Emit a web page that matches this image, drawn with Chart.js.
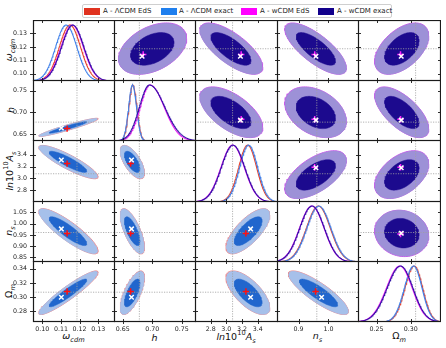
<!DOCTYPE html>
<html>
<head>
<meta charset="utf-8">
<script src="https://cdn.jsdelivr.net/npm/chart.js@4.4.1/dist/chart.umd.min.js"></script>
<style>
  body { margin: 0; background: #fff; font-family: "DejaVu Sans", sans-serif; }
  #fig { position: relative; width: 446px; height: 348px; overflow: hidden; }
  #fig canvas { position: absolute; }
  #legend { position: absolute; left: 82px; top: 4px; width: 310px; height: 14px; border: 1px solid #cfcfcf; border-radius: 2px; box-sizing: border-box; }
  .patch { position: absolute; top: 3px; width: 16px; height: 7px; }
  .ltxt { position: absolute; top: 1px; font-size: 7px; line-height: 10px; color: #222; white-space: nowrap; }
  .axt { position: absolute; font-size: 9.5px; color: #111; white-space: nowrap; transform: translate(-50%, -50%); }
  .axt.rot { transform: translate(-50%, -50%) rotate(-90deg); }
  .axt sub, .axt sup { font-size: 70%; }
</style>
</head>
<body>
<div id="fig">
  <div id="legend"></div>
</div>
<script>
// ---- data ----
const axisTitles = ['<i>ω</i><sub><i>cdm</i></sub>', '<i>h</i>', '<i>ln</i>10<sup>10</sup><i>A</i><sub><i>s</i></sub>', '<i>n</i><sub><i>s</i></sub>', 'Ω<sub><i>m</i></sub>'];

const xLo = [0.095, 0.635, 2.60, 0.828, 0.223];
const xHi = [0.139, 0.774, 3.66, 1.102, 0.344];
const yLo = [0.0946, 0.635, 2.605, 0.830, 0.265];
const yHi = [0.140, 0.774, 3.647, 1.101, 0.351];

const xTicks = [[0.10, 0.11, 0.12, 0.13], [0.65, 0.70, 0.75], [2.8, 3.0, 3.2, 3.4], [0.9, 1.0], [0.25, 0.30]];
const xTickLabels = [['0.10', '0.11', '0.12', '0.13'], ['0.65', '0.70', '0.75'], ['2.8', '3.0', '3.2', '3.4'], ['0.9', '1.0'], ['0.25', '0.30']];
const yTicks = [[0.10, 0.11, 0.12, 0.13], [0.65, 0.70, 0.75], [2.8, 3.0, 3.2, 3.4], [0.85, 0.90, 0.95, 1.00, 1.05], [0.28, 0.30, 0.32, 0.34]];
const yTickLabels = [['0.10', '0.11', '0.12', '0.13'], ['0.65', '0.70', '0.75'], ['2.8', '3.0', '3.2', '3.4'], ['0.85', '0.90', '0.95', '1.00', '1.05'], ['0.28', '0.30', '0.32', '0.34']];

const fiducial = [0.1186, 0.678, 3.08, 0.961, 0.307];

// 1D marginals (peak, left width, right width)
const lcdmEdsPeak = [0.1148, 0.6668, 3.272, 0.966, 0.305];
const lcdmEdsSigL = [0.0057, 0.0066, 0.115, 0.040, 0.0135];
const lcdmEdsSigR = [0.0057, 0.0068, 0.115, 0.040, 0.0123];
const lcdmExactPeak = [0.1128, 0.6663, 3.285, 0.968, 0.304];
const lcdmExactSigL = [0.0057, 0.0066, 0.115, 0.040, 0.0135];
const lcdmExactSigR = [0.0057, 0.0068, 0.115, 0.040, 0.0123];
const wcdmEdsPeak = [0.1160, 0.696, 3.080, 0.944, 0.284];
const wcdmEdsSigL = [0.0060, 0.0165, 0.150, 0.041, 0.0196];
const wcdmEdsSigR = [0.0060, 0.0240, 0.150, 0.041, 0.0180];
const wcdmExactPeak = [0.1163, 0.695, 3.085, 0.945, 0.285];
const wcdmExactSigL = [0.0060, 0.0170, 0.150, 0.041, 0.0196];
const wcdmExactSigR = [0.0060, 0.0260, 0.150, 0.041, 0.0180];

// 2D contours (center, width per parameter, correlations)
const lcdmCenter = [0.1138, 0.666, 3.28, 0.967, 0.306];
const lcdmSigma = [0.0063, 0.0082, 0.111, 0.040, 0.0122];
const lcdmEdsCenter = [0.1141, 0.6662, 3.276, 0.9665, 0.3063];
const lcdmEdsSigma = [0.0064, 0.0083, 0.113, 0.0405, 0.0124];
const wcdmCenter = [0.1185, 0.700, 3.06, 0.958, 0.287];
const wcdmSigma = [0.0076, 0.023, 0.16, 0.041, 0.0157];
const wcdmEdsCenter = [0.1187, 0.7005, 3.065, 0.957, 0.2868];
const wcdmEdsSigma = [0.0077, 0.0233, 0.162, 0.0415, 0.0159];
const lcdmCorr = [
  [1, 0.95, -0.88, -0.87, 0.93],
  [0.95, 1, -0.65, -0.70, 0.70],
  [-0.88, -0.65, 1, 0.72, -0.68],
  [-0.87, -0.70, 0.72, 1, -0.85],
  [0.93, 0.70, -0.68, -0.85, 1]
];
const wcdmCorr = [
  [1, 0.40, -0.72, -0.75, 0.50],
  [0.40, 1, -0.60, -0.35, -0.65],
  [-0.72, -0.60, 1, 0.60, 0.45],
  [-0.75, -0.35, 0.60, 1, -0.10],
  [0.50, -0.65, 0.45, -0.10, 1]
];

// best-fit markers
const lcdmExactBest = [0.1102, 0.6647, 3.31, 0.977, 0.300];
const lcdmEdsBest = [0.1133, 0.6632, 3.25, 0.957, 0.308];
const wcdmExactBest = [0.1130, 0.6826, 3.18, 0.958, 0.286];
const wcdmEdsBest = [0.1143, 0.6845, 3.19, 0.954, 0.285];

const legendNames = ['A - ΛCDM EdS', 'A - ΛCDM exact', 'A - wCDM EdS', 'A - wCDM exact'];
const legendColors = ['#e0321f', '#1f7fee', '#ff00ff', '#12008c'];

// ---- layout ----
const colE = [33, 114, 195, 277, 358, 440];
const rowE = [20, 80, 140, 201, 261, 321];
const K1 = 1.6, K2 = 2.48;
const XAXIS_H = 15;

const fig = document.getElementById('fig');

// legend
const legend = document.getElementById('legend');
const patchX = [1, 78, 158, 235];
const textX = [20, 96, 177, 254];
legendNames.forEach((name, k) => {
    const p = document.createElement('div');
    p.className = 'patch';
    p.style.left = patchX[k] + 'px';
    p.style.background = legendColors[k];
    legend.appendChild(p);
    const t = document.createElement('div');
    t.className = 'ltxt';
    t.style.left = textX[k] + 'px';
    t.textContent = name;
    legend.appendChild(t);
});

// axis titles
axisTitles.forEach((html, k) => {
    const xt = document.createElement('div');
    xt.className = 'axt';
    xt.innerHTML = html;
    xt.style.left = ((colE[k] + colE[k + 1]) / 2) + 'px';
    xt.style.top = '337px';
    fig.appendChild(xt);
    const yt = document.createElement('div');
    yt.className = 'axt rot';
    yt.innerHTML = html;
    yt.style.left = '10px';
    yt.style.top = ((rowE[k] + rowE[k + 1]) / 2) + 'px';
    fig.appendChild(yt);
});

function splitGauss(x, m, sl, sr) {
    const s = x < m ? sl : sr;
    return Math.exp(-0.5 * ((x - m) / s) ** 2);
}

function marginal(j, peak, sl, sr) {
    const pts = [];
    for (let k = 0; k <= 140; k++) {
        const x = xLo[j] + (xHi[j] - xLo[j]) * k / 140;
        pts.push({ x: x, y: splitGauss(x, peak[j], sl[j], sr[j]) });
    }
    return pts;
}

function contour(center, sigma, corr, i, j, k) {
    const rho = corr[i][j];
    const q = Math.sqrt(1 - rho * rho);
    const pts = [];
    for (let n = 0; n <= 96; n++) {
        const t = 2 * Math.PI * n / 96;
        pts.push({
            x: center[j] + k * sigma[j] * Math.cos(t),
            y: center[i] + k * sigma[i] * (rho * Math.cos(t) + q * Math.sin(t))
        });
    }
    return pts;
}

function lineSet(data, color, width, extra) {
    return Object.assign({ data: data, borderColor: color, borderWidth: width, fill: false, pointRadius: 0 }, extra || {});
}

function marker(j, i, best, style, color) {
    return {
        data: [{ x: best[j], y: best[i] }], showLine: false, fill: false,
        pointStyle: style, pointRadius: 3.2, pointBorderWidth: 1.5,
        pointBorderColor: color, pointBackgroundColor: color
    };
}

// frame + inward ticks, drawn after everything
function framePlugin(cfg) {
    return {
        id: 'frame',
        afterDraw(chart) {
            const ctx = chart.ctx;
            const a = chart.chartArea;
            const xs = chart.scales.x, ys = chart.scales.y;
            ctx.save();
            ctx.setLineDash([]);
            ctx.strokeStyle = '#1a1a1a';
            ctx.lineWidth = 0.9;
            ctx.beginPath();
            cfg.xt.forEach(v => {
                const p = Math.round(xs.getPixelForValue(v)) + 0.5;
                ctx.moveTo(p, a.top); ctx.lineTo(p, a.top + 3);
                ctx.moveTo(p, a.bottom - 3); ctx.lineTo(p, a.bottom + (cfg.outB ? 2 : 0));
            });
            cfg.yt.forEach(v => {
                const p = Math.round(ys.getPixelForValue(v)) + 0.5;
                ctx.moveTo(a.left - (cfg.outL ? 3 : 0), p); ctx.lineTo(a.left + 3, p);
                ctx.moveTo(a.right - 3, p); ctx.lineTo(a.right, p);
            });
            ctx.stroke();
            ctx.lineWidth = 1.2;
            ctx.strokeRect(a.left + 0.5, a.top + 0.5, a.width - 1, a.height - 1);
            ctx.restore();
        }
    };
}

function buildPanel(i, j) {
    const left = j === 0 ? 0 : colE[j];
    const width = colE[j + 1] + 1 - left;
    const top = rowE[i];
    const height = rowE[i + 1] + 1 - top + (i === 4 ? XAXIS_H : 0);

    const canvas = document.createElement('canvas');
    canvas.width = width;
    canvas.height = height;
    canvas.style.left = left + 'px';
    canvas.style.top = top + 'px';
    canvas.style.width = width + 'px';
    canvas.style.height = height + 'px';
    fig.appendChild(canvas);

    const diag = i === j;
    const layers = [];   // bottom -> top
    const fid = { borderDash: [1.2, 1.3] };

    if (diag) {
        layers.push(lineSet([{ x: fiducial[j], y: 0 }, { x: fiducial[j], y: 1.09 }], '#a0a0a0', 0.8, Object.assign({ yAxisID: 'yd' }, fid)));
        layers.push(lineSet(marginal(j, lcdmEdsPeak, lcdmEdsSigL, lcdmEdsSigR), '#e8442e', 1.1, { yAxisID: 'yd' }));
        layers.push(lineSet(marginal(j, lcdmExactPeak, lcdmExactSigL, lcdmExactSigR), '#4182ea', 1.1, { yAxisID: 'yd' }));
        layers.push(lineSet(marginal(j, wcdmEdsPeak, wcdmEdsSigL, wcdmEdsSigR), '#f01cf4', 1.1, { yAxisID: 'yd' }));
        layers.push(lineSet(marginal(j, wcdmExactPeak, wcdmExactSigL, wcdmExactSigR), '#3012a6', 1.1, { yAxisID: 'yd' }));
    } else {
        const lower = i > j;
        const c = lower ? lcdmCenter : wcdmCenter;
        const s = lower ? lcdmSigma : wcdmSigma;
        const ce = lower ? lcdmEdsCenter : wcdmEdsCenter;
        const se = lower ? lcdmEdsSigma : wcdmEdsSigma;
        const corr = lower ? lcdmCorr : wcdmCorr;
        const outerFill = lower ? '#a6c0ea' : '#9d91d7';
        const innerFill = lower ? '#2166cd' : '#1c0a8e';
        const edge = lower ? '#ec8a8e' : '#c859ea';
        layers.push(lineSet(contour(ce, se, corr, i, j, K2), edge, 1, { fill: 'shape', backgroundColor: outerFill }));
        layers.push(lineSet(contour(c, s, corr, i, j, K2), outerFill, 0.5, { fill: 'shape', backgroundColor: outerFill }));
        layers.push(lineSet(contour(c, s, corr, i, j, K1), innerFill, 0.5, { fill: 'shape', backgroundColor: innerFill }));
        layers.push(lineSet([{ x: fiducial[j], y: yLo[i] }, { x: fiducial[j], y: yHi[i] }], '#a0a0a0', 0.8, fid));
        layers.push(lineSet([{ x: xLo[j], y: fiducial[i] }, { x: xHi[j], y: fiducial[i] }], '#a0a0a0', 0.8, fid));
        if (lower) {
            layers.push(marker(j, i, lcdmEdsBest, 'cross', '#ff1010'));
            layers.push(marker(j, i, lcdmExactBest, 'crossRot', '#ffffff'));
        } else {
            layers.push(marker(j, i, wcdmEdsBest, 'cross', '#ff20ff'));
            layers.push(marker(j, i, wcdmExactBest, 'crossRot', '#ffffff'));
        }
    }
    // Chart.js paints dataset 0 last (on top), so list top -> bottom
    const datasets = layers.reverse();

    const tickFont = { family: 'DejaVu Sans', size: 6.3 };
    const showX = i === 4, showY = j === 0;
    const scales = {
        x: {
            type: 'linear', min: xLo[j], max: xHi[j], display: showX,
            grid: { display: false, drawTicks: true, tickLength: 2 },
            border: { display: false },
            afterBuildTicks: sc => { sc.ticks = xTicks[j].map(v => ({ value: v })); },
            afterFit: sc => { if (showX) { sc.height = XAXIS_H; } sc.paddingLeft = 0; sc.paddingRight = 0; },
            ticks: { font: tickFont, color: '#222', padding: 2, autoSkip: false, maxRotation: 0,
                     callback: (v, idx) => xTickLabels[j][idx] }
        },
        y: {
            type: 'linear', min: yLo[i], max: yHi[i], display: showY,
            grid: { display: false, drawTicks: true, tickLength: 3 },
            border: { display: false },
            afterBuildTicks: sc => { sc.ticks = yTicks[i].map(v => ({ value: v })); },
            afterFit: sc => { if (showY) { sc.width = colE[0]; } sc.paddingTop = 0; sc.paddingBottom = 0; },
            ticks: { font: tickFont, color: '#222', padding: 3, autoSkip: false,
                     callback: (v, idx) => yTickLabels[i][idx] }
        }
    };
    if (diag) scales.yd = { type: 'linear', min: 0, max: 1.09, display: false };

    new Chart(canvas, {
        type: 'line',
        data: { datasets: datasets },
        options: {
            responsive: false,
            animation: false,
            events: [],
            layout: { padding: 0, autoPadding: false },
            elements: { point: { radius: 0 }, line: { tension: 0 } },
            plugins: {
                legend: { display: false },
                tooltip: { enabled: false }
            },
            scales: scales
        },
        plugins: [framePlugin({
            xt: xTicks[j],
            yt: (diag && i !== 0) ? [] : yTicks[i],
            outB: showX,
            outL: showY
        })]
    });
}

for (let i = 0; i < 5; i++) {
    for (let j = 0; j < 5; j++) {
        buildPanel(i, j);
    }
}
</script>
</body>
</html>
